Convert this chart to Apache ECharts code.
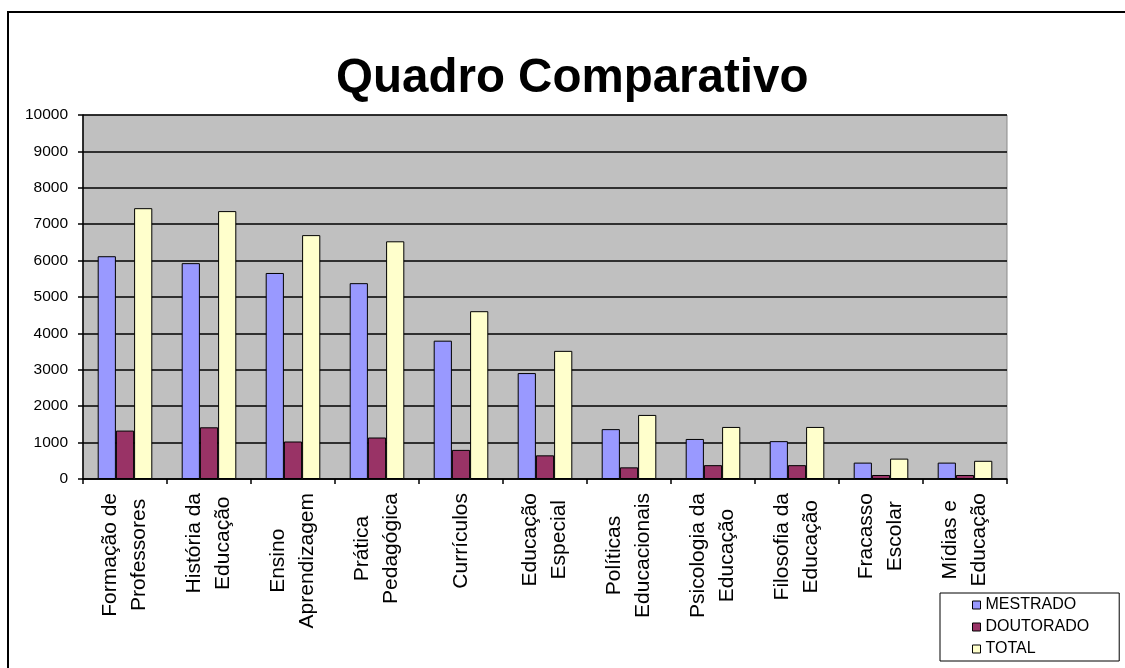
<!DOCTYPE html>
<html>
<head>
<meta charset="utf-8">
<script src="https://cdn.jsdelivr.net/npm/echarts@6/dist/echarts.min.js"></script>
<style>
  html, body { margin: 0; padding: 0; background: #fff; }
  #frame { position: absolute; left: 7px; top: 11px; width: 1200px; height: 700px;
           border-left: 2px solid #000; border-top: 2px solid #000; }
  #main { position: absolute; left: 0; top: 0; width: 1125px; height: 668px; }
</style>
</head>
<body>
<div id="frame"></div>
<div id="main"></div>
<script>
var categories = [
  "Formação de\nProfessores", "História da\nEducação", "Ensino\nAprendizagem",
  "Prática\nPedagógica", "Currículos", "Educação\nEspecial",
  "Políticas\nEducacionais", "Psicologia da\nEducação", "Filosofia da\nEducação",
  "Fracasso\nEscolar", "Mídias e\nEducação"
];
var mestrado  = [6120, 5930, 5660, 5380, 3800, 2910, 1370, 1100, 1040, 450, 450];
var doutorado = [1330, 1420, 1030, 1140, 800, 650, 320, 380, 380, 110, 110];
var total     = [7440, 7360, 6700, 6530, 4610, 3520, 1760, 1430, 1430, 560, 500];
var yTicks = { min: 0, max: 10000, step: 1000 };

var font = "'Liberation Sans', Arial, sans-serif";

var myChart = echarts.init(document.getElementById("main"));

function bar(name, data, color) {
  return {
    name: name,
    type: "bar",
    data: data,
    barGap: "0%",
    barCategoryGap: "35%",
    itemStyle: { color: color, borderColor: "#000", borderWidth: 1 },
    emphasis: { disabled: true }
  };
}

myChart.setOption({
  animation: false,
  backgroundColor: "transparent",
  title: {
    text: "Quadro Comparativo",
    left: 336,
    top: 55,
    padding: 0,
    textStyle: { fontFamily: font, fontSize: 47.5, fontWeight: "bold", color: "#000" }
  },
  legend: {
    orient: "vertical",
    left: 940,
    top: 593,
    padding: [3, 30, 3, 32],
    itemGap: 4,
    itemWidth: 8,
    itemHeight: 8,
    icon: "rect",
    borderColor: "#000",
    borderWidth: 1,
    backgroundColor: "#fff",
    textStyle: { fontFamily: font, fontSize: 16, color: "#000", lineHeight: 18 },
    itemStyle: { borderColor: "#000", borderWidth: 1 },
    data: ["MESTRADO", "DOUTORADO", "TOTAL"]
  },
  grid: {
    left: 83, right: 118, top: 115, bottom: 189,
    show: true,
    backgroundColor: "#c0c0c0",
    borderColor: "#8a8a8a",
    borderWidth: 1
  },
  xAxis: {
    type: "category",
    data: categories,
    axisLine: { lineStyle: { color: "#000", width: 1.5 } },
    axisTick: { show: true, length: 5, lineStyle: { color: "#000", width: 1.5 } },
    axisLabel: {
      rotate: 90,
      margin: 14,
      interval: 0,
      lineHeight: 29,
      color: "#000",
      fontFamily: font,
      fontSize: 21,
      formatter: function (v) {
        return v.split("\n").map(function (s) { return "{c|" + s + "}"; }).join("\n");
      },
      rich: { c: { align: "center", fontFamily: font, fontSize: 21, lineHeight: 29, color: "#000" } }
    }
  },
  yAxis: {
    type: "value",
    min: yTicks.min,
    max: yTicks.max,
    interval: yTicks.step,
    axisLine: { show: true, lineStyle: { color: "#000", width: 1.5 } },
    axisTick: { show: true, length: 5, lineStyle: { color: "#000", width: 1.5 } },
    splitLine: { lineStyle: { color: "#000", width: 1.5 } },
    axisLabel: {
      margin: 15, color: "#000", fontFamily: font, fontSize: 15.5,
      formatter: function (v) { return String(v); }
    }
  },
  series: [
    bar("MESTRADO", mestrado, "#9999ff"),
    bar("DOUTORADO", doutorado, "#993366"),
    bar("TOTAL", total, "#ffffcc")
  ]
});
</script>
</body>
</html>
